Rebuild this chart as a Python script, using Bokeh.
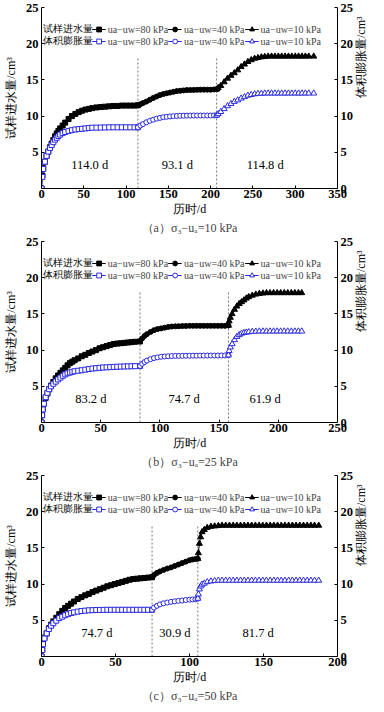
import math
from bokeh.plotting import figure
from bokeh.models import LinearAxis, Range1d, FixedTicker, Legend, LegendItem, Label, Title
from bokeh.layouts import column
from bokeh.embed import file_html
from bokeh.resources import INLINE
from bokeh.core.properties import value

# ---------------- data ----------------
SUCTION_LABELS = ["ua\u2212uw=80 kPa", "ua\u2212uw=40 kPa", "ua\u2212uw=10 kPa"]
ROW_LABELS = ["试样进水量", "体积膨胀量"]
X_LABEL = "历时/d"
Y_LEFT_LABEL = "试样进水量/cm³"
Y_RIGHT_LABEL = "体积膨胀量/cm³"

# panel (a) sigma3-ua = 10 kPa
A_TITLE = "（a）σ₃−uₐ=10 kPa"
A_XMAX = 350
A_STAGES = [114.0, 93.1, 114.8]
A_T1 = [0, 1, 2, 4, 6, 8, 10, 12, 14, 16, 18, 20, 22, 25, 28, 32, 36, 40, 44, 48, 52, 56, 60, 65, 70, 75, 80, 85, 90, 95, 100, 105, 110, 114]
A_W1 = [0, 1.8, 2.8, 3.7, 4.5, 5.1, 5.7, 6.2, 6.7, 7.2, 7.6, 7.95, 8.3, 8.7, 9.1, 9.6, 10.0, 10.3, 10.55, 10.75, 10.9, 11.0, 11.1, 11.2, 11.25, 11.3, 11.35, 11.4, 11.4, 11.45, 11.45, 11.45, 11.45, 11.5]
A_V1 = [0, 1.6, 2.7, 3.7, 4.5, 5.1, 5.6, 6.0, 6.4, 6.75, 7.0, 7.25, 7.45, 7.65, 7.8, 7.95, 8.05, 8.15, 8.2, 8.25, 8.3, 8.35, 8.4, 8.4, 8.42, 8.43, 8.45, 8.45, 8.45, 8.45, 8.45, 8.45, 8.45, 8.45]
A_T2 = [114, 117, 120, 124, 128, 132, 136, 140, 144, 148, 152, 156, 160, 164, 168, 172, 176, 180, 184, 188, 192, 196, 200, 204, 207.1]
A_W2 = [11.5, 11.65, 11.8, 12.0, 12.25, 12.5, 12.7, 12.9, 13.05, 13.15, 13.25, 13.35, 13.45, 13.5, 13.55, 13.6, 13.6, 13.62, 13.63, 13.65, 13.65, 13.65, 13.65, 13.68, 13.7]
A_V2 = [8.45, 8.7, 8.9, 9.15, 9.35, 9.5, 9.65, 9.75, 9.85, 9.9, 9.95, 10.0, 10.02, 10.05, 10.05, 10.06, 10.07, 10.08, 10.08, 10.08, 10.08, 10.08, 10.08, 10.1, 10.1]
A_T3 = [207.1, 209, 212, 216, 220, 224, 228, 232, 236, 240, 244, 248, 252, 256, 260, 264, 268, 272, 276, 280, 284, 288, 292, 296, 300, 304, 308, 312, 316, 321.9]
A_W3 = [13.7, 13.9, 14.2, 14.7, 15.2, 15.6, 15.95, 16.35, 16.8, 17.15, 17.5, 17.75, 17.95, 18.05, 18.15, 18.2, 18.25, 18.25, 18.25, 18.25, 18.25, 18.25, 18.25, 18.25, 18.25, 18.25, 18.25, 18.25, 18.25, 18.25]
A_V3 = [10.1, 10.3, 10.6, 11.0, 11.4, 11.7, 12.0, 12.2, 12.45, 12.65, 12.85, 12.95, 13.05, 13.1, 13.12, 13.15, 13.15, 13.15, 13.15, 13.15, 13.15, 13.15, 13.15, 13.15, 13.15, 13.15, 13.15, 13.15, 13.15, 13.15]

# panel (b) sigma3-ua = 25 kPa
B_TITLE = "（b）σ₃−uₐ=25 kPa"
B_XMAX = 250
B_STAGES = [83.2, 74.7, 61.9]
B_T1 = [0, 0.5, 1, 2, 3.5, 5, 6.5, 8, 10, 12, 14, 16, 18, 20, 22, 24, 26, 28, 31, 34, 37, 40, 43, 46, 49, 52, 55, 58, 61, 64, 67, 70, 73, 76, 79, 83.2]
B_W1 = [0, 1.0, 1.8, 2.6, 3.4, 4.0, 4.6, 5.1, 5.6, 6.1, 6.5, 6.85, 7.2, 7.55, 7.9, 8.2, 8.4, 8.6, 8.85, 9.15, 9.35, 9.6, 9.8, 10.0, 10.25, 10.4, 10.55, 10.7, 10.85, 10.9, 10.95, 11.0, 11.05, 11.1, 11.15, 11.2]
B_V1 = [0, 1.0, 1.8, 2.6, 3.5, 4.1, 4.6, 5.0, 5.35, 5.65, 5.95, 6.2, 6.45, 6.65, 6.8, 6.9, 7.0, 7.08, 7.15, 7.22, 7.3, 7.38, 7.45, 7.5, 7.55, 7.6, 7.62, 7.65, 7.68, 7.7, 7.72, 7.74, 7.75, 7.77, 7.78, 7.8]
B_T2 = [83.2, 85, 87, 89, 92, 95, 98, 101, 104, 107, 110, 113, 116, 119, 122, 125, 128, 131, 134, 137, 140, 143, 146, 149, 152, 155, 157.9]
B_W2 = [11.2, 11.6, 11.95, 12.2, 12.5, 12.75, 12.9, 13.0, 13.1, 13.2, 13.25, 13.28, 13.3, 13.32, 13.33, 13.35, 13.35, 13.35, 13.35, 13.35, 13.35, 13.35, 13.35, 13.35, 13.35, 13.35, 13.4]
B_V2 = [7.8, 8.1, 8.35, 8.55, 8.75, 8.9, 9.0, 9.08, 9.12, 9.15, 9.18, 9.2, 9.2, 9.21, 9.22, 9.22, 9.23, 9.23, 9.24, 9.24, 9.25, 9.25, 9.25, 9.25, 9.26, 9.26, 9.3]
B_T3 = [157.9, 158.5, 159.5, 161, 163, 165, 167, 169, 171, 173, 175, 178, 181, 184, 187, 190, 193, 196, 199, 202, 205, 208, 211, 214, 217, 219.8]
B_W3 = [13.4, 14.0, 14.5, 15.0, 15.6, 16.05, 16.4, 16.65, 16.9, 17.15, 17.35, 17.55, 17.7, 17.8, 17.85, 17.9, 17.9, 17.9, 17.9, 17.9, 17.9, 17.9, 17.9, 17.9, 17.9, 17.9]
B_V3 = [9.3, 9.9, 10.4, 10.85, 11.4, 11.85, 12.1, 12.3, 12.4, 12.45, 12.5, 12.55, 12.58, 12.6, 12.6, 12.6, 12.6, 12.6, 12.6, 12.6, 12.6, 12.6, 12.6, 12.6, 12.6, 12.6]

# panel (c) sigma3-ua = 50 kPa
C_TITLE = "（c）σ₃−uₐ=50 kPa"
C_XMAX = 200
C_STAGES = [74.7, 30.9, 81.7]
C_T1 = [0, 0.5, 1, 2, 3.5, 5, 6.5, 8, 10, 12, 14, 16, 18, 20, 22, 24.5, 27, 29.5, 32, 34.5, 37, 39.5, 42, 44.5, 47, 49.5, 52, 54.5, 57, 59.5, 62, 64.5, 67, 69.5, 72, 74.7]
C_W1 = [0, 0.9, 1.8, 2.6, 3.2, 3.9, 4.4, 4.85, 5.35, 5.85, 6.3, 6.7, 7.0, 7.3, 7.6, 7.95, 8.2, 8.45, 8.65, 8.9, 9.1, 9.3, 9.5, 9.7, 9.85, 10.0, 10.15, 10.3, 10.45, 10.6, 10.7, 10.75, 10.8, 10.85, 10.9, 10.95]
C_V1 = [0, 0.9, 1.7, 2.5, 3.2, 3.8, 4.25, 4.6, 4.95, 5.3, 5.5, 5.7, 5.85, 6.0, 6.1, 6.2, 6.28, 6.33, 6.38, 6.4, 6.42, 6.43, 6.44, 6.45, 6.45, 6.45, 6.45, 6.45, 6.45, 6.45, 6.45, 6.45, 6.45, 6.45, 6.45, 6.45]
C_T2 = [74.7, 76, 78, 80, 82.5, 85, 87.5, 90, 92.5, 95, 97.5, 100, 102, 104, 105.6]
C_W2 = [10.95, 11.25, 11.55, 11.75, 11.95, 12.15, 12.3, 12.5, 12.7, 12.9, 13.1, 13.3, 13.4, 13.45, 13.5]
C_V2 = [6.45, 6.75, 7.0, 7.2, 7.35, 7.45, 7.55, 7.62, 7.68, 7.73, 7.8, 7.85, 7.88, 7.9, 8.0]
C_T3 = [105.6, 106, 106.7, 107.5, 108.5, 110, 112, 114.5, 117, 119.5, 122, 124.5, 127, 129.5, 132, 134.5, 137, 139.5, 142, 144.5, 147, 149.5, 152, 154.5, 157, 159.5, 162, 164.5, 167, 169.5, 172, 174.5, 177, 179.5, 182, 184.5, 187.3]
C_W3 = [13.5, 14.3, 15.6, 16.5, 17.2, 17.5, 17.8, 17.95, 18.0, 18.05, 18.1, 18.1, 18.1, 18.1, 18.1, 18.1, 18.1, 18.1, 18.1, 18.1, 18.1, 18.1, 18.1, 18.1, 18.1, 18.1, 18.1, 18.1, 18.1, 18.1, 18.1, 18.1, 18.1, 18.1, 18.1, 18.1, 18.1]
C_V3 = [8.0, 8.6, 9.3, 9.7, 9.95, 10.1, 10.3, 10.4, 10.45, 10.5, 10.5, 10.5, 10.5, 10.5, 10.5, 10.5, 10.5, 10.5, 10.5, 10.5, 10.5, 10.5, 10.5, 10.5, 10.5, 10.5, 10.5, 10.5, 10.5, 10.5, 10.5, 10.5, 10.5, 10.5, 10.5, 10.5, 10.5]

# ---------------- style ----------------
SERIF = "Liberation Serif"
BLUE = "#2a2ae0"
FRAME_W = 296
FRAME_H = 181
MARKERS = ["square", "circle", "triangle"]
SIZES = [5, 5, 6]
DASH_TOP = 18.2
ROW_Y = [22.05, 20.4]   # vertical anchor (y units) of the two legend row captions


def style_axis(ax):
    ax.axis_line_color = "black"
    ax.axis_line_width = 1
    ax.major_tick_in = 3
    ax.major_tick_out = 0
    ax.minor_tick_in = 0
    ax.minor_tick_out = 0
    ax.major_tick_line_color = "black"
    ax.major_label_text_font = SERIF
    ax.major_label_text_font_size = "12.5px"
    ax.major_label_text_font_style = "bold"
    ax.major_label_text_color = "black"
    ax.axis_label_text_font = SERIF
    ax.axis_label_text_font_size = "12px"
    ax.axis_label_text_font_style = "normal"
    ax.axis_label_text_color = "black"


def make_panel(title, xmax, stages, times, water, swell, top):
    p = figure(frame_width=FRAME_W, frame_height=FRAME_H, title=None,
               x_range=Range1d(0, xmax), y_range=Range1d(0, 25),
               output_backend="svg", toolbar_location=None,
               min_border_left=38, min_border_right=34,
               min_border_top=top, min_border_bottom=0)
    p.outline_line_color = None
    p.xgrid.visible = False
    p.ygrid.visible = False
    p.background_fill_color = "white"

    xa = p.xaxis[0]
    xa.ticker = FixedTicker(ticks=list(range(0, xmax + 1, 50)))
    xa.axis_label = X_LABEL
    style_axis(xa)
    xa.major_label_standoff = 1
    xa.axis_label_standoff = 1

    ya = p.yaxis[0]
    ya.ticker = FixedTicker(ticks=[5, 10, 15, 20, 25])
    ya.axis_label = Y_LEFT_LABEL
    style_axis(ya)
    ya.major_label_standoff = 3
    ya.axis_label_standoff = 5

    ra = LinearAxis(ticker=FixedTicker(ticks=[0, 5, 10, 15, 20, 25]), axis_label=Y_RIGHT_LABEL)
    style_axis(ra)
    ra.major_label_standoff = 3
    ra.axis_label_standoff = 5
    ra.axis_label_orientation = math.pi / 2
    p.add_layout(ra, "right")

    # panel caption below the axis label
    p.add_layout(Title(text=title, align="center", text_font=SERIF, text_font_size="12px",
                       text_font_style="normal", standoff=0, offset=0), "below")

    # stage boundaries
    bounds = []
    acc = 0.0
    for d in stages[:-1]:
        acc += d
        bounds.append(acc)
    p.segment(x0=bounds, y0=[0] * len(bounds), x1=bounds, y1=[DASH_TOP] * len(bounds),
              line_color="#555555", line_width=0.8, line_dash="2 2")

    # stage duration labels
    starts = [sum(stages[:i]) for i in range(len(stages))]
    centers = [s + d / 2 for s, d in zip(starts, stages)]
    p.text(x=centers, y=[3.3] * len(stages), text=["%.1f d" % d for d in stages],
           text_font=value(SERIF), text_font_size="12.5px", text_align="center",
           text_baseline="middle", text_color="black")

    w_items, v_items = [], []
    for k in range(3):
        t, w, v = times[k], water[k], swell[k]
        lw = p.line(t, w, line_color="black", line_width=1)
        sw = p.scatter(t, w, marker=MARKERS[k], size=SIZES[k], line_color="black", fill_color="black")
        lv = p.line(t, v, line_color=BLUE, line_width=1)
        sv = p.scatter(t, v, marker=MARKERS[k], size=SIZES[k], line_color=BLUE, fill_color="white", line_width=1)
        w_items.append(LegendItem(label=SUCTION_LABELS[k], renderers=[lw, sw]))
        v_items.append(LegendItem(label=SUCTION_LABELS[k], renderers=[lv, sv]))

    leg = Legend(items=w_items + v_items, orientation="horizontal", ncols=3,
                 location="top_right", padding=0, margin=16, spacing=0,
                 glyph_width=14, glyph_height=12, label_height=12, label_standoff=2,
                 label_text_font=SERIF, label_text_font_size="10px",
                 border_line_color=None, background_fill_alpha=0)
    p.add_layout(leg)
    for row in range(2):
        p.add_layout(Label(x=1, y=ROW_Y[row], x_units="screen", y_units="data",
                           text=ROW_LABELS[row], text_font=SERIF, text_font_size="10px",
                           text_baseline="middle", text_align="left", text_color="black"))
    return p


pa = make_panel(A_TITLE, A_XMAX, A_STAGES, [A_T1, A_T2, A_T3], [A_W1, A_W2, A_W3], [A_V1, A_V2, A_V3], 7)
pb = make_panel(B_TITLE, B_XMAX, B_STAGES, [B_T1, B_T2, B_T3], [B_W1, B_W2, B_W3], [B_V1, B_V2, B_V3], 7)
pc = make_panel(C_TITLE, C_XMAX, C_STAGES, [C_T1, C_T2, C_T3], [C_W1, C_W2, C_W3], [C_V1, C_V2, C_V3], 7)

layout = column(pa, pb, pc, spacing=0)
open("out.html", "w").write(file_html(layout, INLINE))
